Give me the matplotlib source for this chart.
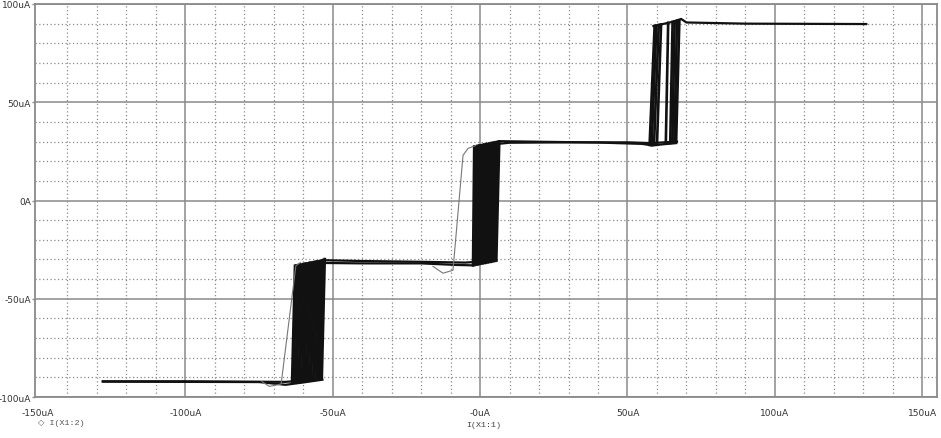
import matplotlib.pyplot as plt
from matplotlib.ticker import MultipleLocator

plt.rcParams['axes.unicode_minus'] = False

# x / y values in uA
X_TICKS = [-150, -100, -50, 0, 50, 100, 150]
X_LABELS = ["-150uA", "-100uA", "-50uA", "-0uA", "50uA", "100uA", "150uA"]
Y_TICKS = [-100, -50, 0, 50, 100]
Y_LABELS = ["-100uA", "-50uA", "0A", "50uA", "100uA"]

# plateaus of the staircase
LOW_UP_X = [-128.0, -100.0, -80.0, -66.0, -60.0, -53.7]
LOW_UP_Y = [-92.0, -92.0, -92.2, -92.3, -91.6, -90.5]
LOW_DN_X = [-53.5, -60.0, -66.0, -75.0, -128.0]
LOW_DN_Y = [-91.2, -92.6, -93.8, -92.4, -92.2]

MID_UP_X = [-52.7, -40.0, -20.0, -5.0, 5.5]
MID_UP_Y = [-30.4, -30.8, -31.2, -31.6, -30.5]
MID_DN_X = [-52.5, -40.0, -20.0, -8.0, -2.4]
MID_DN_Y = [-31.8, -32.0, -32.0, -32.8, -33.0]

UPP_UP_X = [-2.0, 10.0, 30.0, 50.0, 58.0, 66.8]
UPP_UP_Y = [27.6, 29.4, 29.6, 29.6, 29.2, 30.0]
UPP_DN_X = [6.5, 20.0, 40.0, 55.0, 58.5, 62.0, 66.5]
UPP_DN_Y = [30.2, 29.9, 29.5, 28.8, 28.0, 28.6, 29.2]

TOP_X = [58.8, 62.0, 65.5, 68.2, 70.0, 90.0, 131.0]
TOP_Y = [88.8, 89.8, 91.0, 92.4, 90.6, 90.0, 89.8]

# switching strokes: bottom x, top x, bottom y, top y
S1_XB = [-63.8, -63.3, -62.6, -62.2, -61.5, -61.1, -60.4, -60.0, -59.5, -58.8,
         -58.4, -57.7, -57.3, -56.6, -56.2, -55.5, -55.1, -54.6, -54.1, -53.7]
S1_XT = [-62.8, -62.3, -61.7, -61.2, -60.6, -60.1, -59.5, -59.1, -58.5, -57.9,
         -57.4, -56.8, -56.3, -55.7, -55.2, -54.6, -54.1, -53.6, -53.1, -52.7]
S1_YB = [-92.6, -92.4, -92.4, -92.2, -92.2, -92.0, -91.9, -91.9, -91.7, -91.6,
         -91.6, -91.4, -91.3, -91.3, -91.1, -91.0, -90.9, -90.8, -90.6, -90.5]
S1_YT = [-33.2, -33.0, -32.9, -32.6, -32.6, -32.4, -32.2, -32.1, -32.0, -31.7,
         -31.6, -31.5, -31.3, -31.1, -31.0, -30.9, -30.7, -30.5, -30.2, -29.8]

S2_XB = [-2.4, -1.9, -1.3, -0.8, -0.3, 0.3, 0.8, 1.4, 1.9, 2.5,
         3.0, 3.6, 4.1, 4.6, 5.1, 5.5]
S2_XT = [-2.0, -1.4, -0.8, -0.2, 0.3, 0.9, 1.4, 2.0, 2.5, 3.1,
         3.7, 4.3, 4.8, 5.4, 6.0, 6.5]
S2_YB = [-33.0, -32.8, -32.6, -32.5, -32.3, -32.1, -32.0, -31.8, -31.7, -31.5,
         -31.3, -31.2, -31.0, -30.8, -30.7, -30.5]
S2_YT = [27.4, 27.6, 27.8, 28.0, 28.1, 28.3, 28.5, 28.7, 28.8, 29.0,
         29.2, 29.4, 29.5, 29.7, 29.9, 30.1]

S3_XB = [57.5, 58.2, 59.0, 60.0, 63.0, 64.5, 65.2, 65.9, 66.5]
S3_XT = [59.2, 59.8, 60.6, 61.4, 63.8, 65.3, 66.0, 66.8, 67.6]
S3_YB = [28.3, 28.2, 28.4, 28.6, 29.0, 29.3, 29.4, 29.6, 29.8]
S3_YT = [88.8, 89.0, 89.3, 89.6, 90.4, 90.9, 91.2, 91.5, 91.6]

# first (thin, grey) passage through the lower and middle steps
GRAY1_X = [-74.0, -71.5, -67.5, -62.5, -61.0]
GRAY1_Y = [-92.2, -94.6, -93.4, -33.2, -31.6]
GRAY2_X = [-16.0, -12.6, -9.2, -5.8, -4.1, -1.5]
GRAY2_Y = [-33.5, -37.0, -35.5, 23.0, 26.5, 28.0]

GRID = "#8a8a8a"
INK = "#111111"


fig = plt.figure(figsize=(9.41, 4.39), dpi=100)
ax = fig.add_axes([35 / 941, 1 - 398 / 439, 902 / 941, 393 / 439])

ax.set_xlim(-151, 155)
ax.set_ylim(-100, 100)

ax.xaxis.set_minor_locator(MultipleLocator(10))
ax.yaxis.set_minor_locator(MultipleLocator(10))
ax.set_xticks(X_TICKS, X_LABELS)
ax.set_yticks(Y_TICKS, Y_LABELS)
ax.grid(which="major", color=GRID, linewidth=1.1, linestyle="-")
ax.grid(which="minor", color=GRID, linewidth=0.9, linestyle=(0, (1, 2)))
ax.set_axisbelow(True)
# the -150 line would sit right next to the frame
ax.get_xgridlines()[0].set_visible(False)

ax.tick_params(axis="x", which="both", length=0, pad=8, labelsize=6.5, colors="#333333")
ax.tick_params(axis="y", which="major", length=2.5, width=1, pad=0.5, labelsize=6.5,
               colors="#333333")
ax.tick_params(axis="y", which="minor", length=0)
ax.tick_params(axis="y", color=GRID)

for sp in ax.spines.values():
    sp.set_color(GRID)
    sp.set_linewidth(1.3)

lw = 1.6
for xs, ys in [(LOW_UP_X, LOW_UP_Y), (LOW_DN_X, LOW_DN_Y),
               (MID_UP_X, MID_UP_Y), (MID_DN_X, MID_DN_Y),
               (UPP_UP_X, UPP_UP_Y), (UPP_DN_X, UPP_DN_Y),
               (TOP_X, TOP_Y)]:
    ax.plot(xs, ys, color=INK, linewidth=lw, solid_joinstyle="round")

for xb, xt, yb, yt in [(S1_XB, S1_XT, S1_YB, S1_YT),
                       (S2_XB, S2_XT, S2_YB, S2_YT),
                       (S3_XB, S3_XT, S3_YB, S3_YT)]:
    for i in range(len(xb)):
        ax.plot([xb[i], xt[i]], [yb[i], yt[i]], color=INK, linewidth=1.9)

ax.plot(GRAY1_X, GRAY1_Y, color="#777777", linewidth=0.8)
ax.plot(GRAY2_X, GRAY2_Y, color="#777777", linewidth=0.8)

fig.text(38 / 941, 1 - 423 / 439, "\u25c7 I(X1:2)", fontsize=6,
         family=["Liberation Mono", "DejaVu Sans"], color="#555555", va="center")
fig.text(484 / 941, 1 - 426 / 439, "I(X1:1)", fontsize=6,
         family=["Liberation Mono", "DejaVu Sans"], color="#444444",
         va="center", ha="center")

fig.savefig("out.png", dpi=100, facecolor="white")
